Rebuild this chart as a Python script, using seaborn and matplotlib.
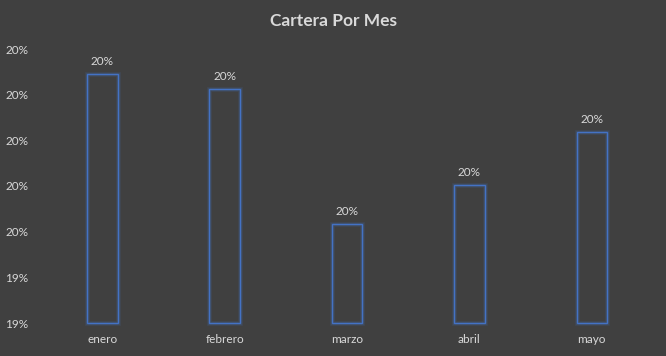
import matplotlib
matplotlib.use("Agg")
import matplotlib.pyplot as plt
import seaborn as sns
import pandas as pd

months = ["enero", "febrero", "marzo", "abril", "mayo"]
values = [0.19945, 0.19912, 0.19617, 0.19702, 0.19818]
yticks = [0.194, 0.195, 0.196, 0.197, 0.198, 0.199, 0.200]
ytick_labels = ["19%", "19%", "20%", "20%", "20%", "20%", "20%"]
title = "Cartera Por Mes"

BG = "#404040"
TXT = "#d9d9d9"
EDGE = "#4472C4"

sns.set_theme(style="dark")
plt.rcParams["font.family"] = ["Lato", "DejaVu Sans"]

df = pd.DataFrame({"mes": months, "valor": values})

fig = plt.figure(figsize=(6.66, 3.56), dpi=100, facecolor=BG)
ax = fig.add_axes([41/666, 33/356, 612/666, 274/356], facecolor=BG)

# glow layers
for lw, a in [(3.6, 0.10), (2.4, 0.18)]:
    sns.barplot(data=df, x="mes", y="valor", ax=ax, width=0.25,
                facecolor="none", edgecolor=EDGE, linewidth=lw, alpha=a)
sns.barplot(data=df, x="mes", y="valor", ax=ax, width=0.25,
            facecolor="none", edgecolor=EDGE, linewidth=1.0)
base = yticks[0]
for p in ax.patches:
    top = p.get_y() + p.get_height()
    p.set_y(base)
    p.set_height(top - base)
    p.set_clip_on(False)

ax.set_ylim(yticks[0], yticks[-1])
ax.set_xlim(-0.5, len(months) - 0.5)
ax.set_yticks(yticks)
ax.set_yticklabels(ytick_labels)
ax.set_xlabel("")
ax.set_ylabel("")
ax.tick_params(axis="both", colors=TXT, labelsize=8.5, length=0)
ax.tick_params(axis="y", pad=9)
ax.tick_params(axis="x", pad=8)
ax.grid(False)
for s in ax.spines.values():
    s.set_visible(False)

for i, v in enumerate(values):
    ax.annotate(f"{v:.0%}", (i, v), xytext=(0, 5), textcoords="offset points",
                ha="center", va="bottom", color=TXT, fontsize=8.5)

fig.text(0.5, 1 - 21/356, title, ha="center", va="center",
         color=TXT, fontsize=12.5, fontweight="bold")

fig.savefig("out.png", dpi=100, facecolor=BG)
